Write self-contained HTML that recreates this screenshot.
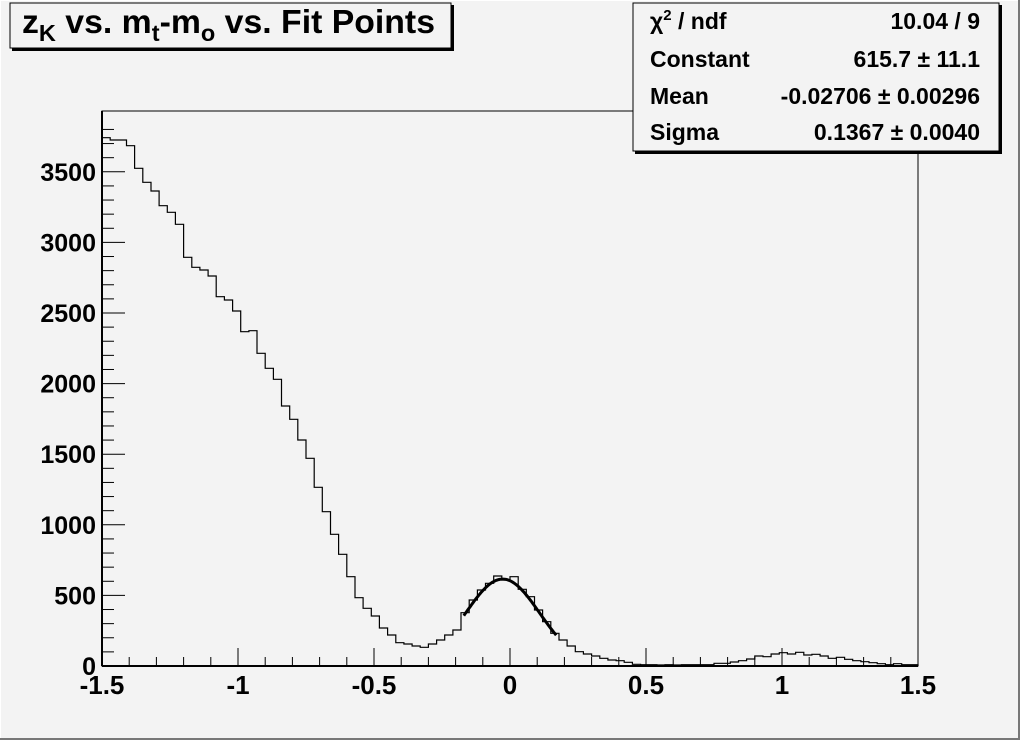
<!DOCTYPE html>
<html><head><meta charset="utf-8"><style>
html,body{margin:0;padding:0;background:#f3f3f3;}
svg{display:block;font-family:"Liberation Sans",Arial,sans-serif;font-weight:bold;}
</style></head><body>
<svg id="s" width="1020" height="740" viewBox="0 0 1020 740" xmlns="http://www.w3.org/2000/svg">
<rect x="0" y="0" width="1020" height="740" fill="#f3f3f3"/>
<rect x="0.5" y="0.5" width="1018" height="738" fill="none" stroke="#ffffff" stroke-width="1"/>
<line x1="1019" y1="0" x2="1019" y2="740" stroke="#777" stroke-width="2"/>
<line x1="0" y1="739" x2="1020" y2="739" stroke="#777" stroke-width="2"/>
<rect x="102" y="111" width="816" height="555" fill="#f3f3f3" stroke="#000" stroke-width="1"/>
<g id="ticks" stroke="#000" stroke-width="1"></g>
<path id="h" fill="none" stroke="#000" stroke-width="1.2"/>
<path id="f" fill="none" stroke="#000" stroke-width="3"/>
<line x1="102" y1="666" x2="918" y2="666" stroke="#000" stroke-width="2"/>
<line x1="102" y1="111" x2="102" y2="666" stroke="#000" stroke-width="2"/>
<g font-size="25" text-anchor="end" id="yl"></g>
<g font-size="26" text-anchor="middle" id="xl"></g>
<!-- title -->
<rect x="12" y="5" width="442" height="46" fill="#000"/>
<rect x="10" y="3" width="441" height="45" fill="#f3f3f3" stroke="#000" stroke-width="1"/>
<text x="22" y="33" font-size="33" textLength="413" lengthAdjust="spacingAndGlyphs">z<tspan font-size="23" dy="8">K</tspan><tspan dy="-8"> vs. m</tspan><tspan font-size="23" dy="8">t</tspan><tspan dy="-8">-m</tspan><tspan font-size="23" dy="8">o</tspan><tspan dy="-8"> vs. Fit Points</tspan></text>
<!-- stats -->
<rect x="635" y="5" width="367" height="149" fill="#000"/>
<rect x="633" y="3" width="366" height="148" fill="#f3f3f3" stroke="#000" stroke-width="1"/>
<g font-size="23">
<text x="650" y="29">χ<tspan font-size="15" dy="-9">2</tspan><tspan dy="9"> / ndf</tspan></text>
<text x="650" y="67">Constant</text>
<text x="650" y="104">Mean</text>
<text x="650" y="140">Sigma</text>
<g text-anchor="end">
<text x="980" y="29">10.04 / 9</text>
<text x="980" y="67">615.7 ± 11.1</text>
<text x="980" y="104">-0.02706 ± 0.00296</text>
<text x="980" y="140">0.1367 ± 0.0040</text>
</g></g>
</svg>
<script>
var Y=[137.7,140,140,145.7,168.3,182.3,191,205.7,212.3,224.3,257.3,267.3,270,276,296.7,300,311,331.7,330.7,353.3,368.3,379.3,406,419.3,440,458.3,487.3,511.7,534.3,554.3,
576.7,597.7,608.3,616,628,635,642.7,644,646,647.3,644,640,635,630,612.7,600,590,583.3,576,580,576.7,589.3,596.7,610,621.7,633.3,640,646,651.7,654,656,658.3,660,660.7,
662.3,664.3,664.7,664.7,665,664.7,665,664.7,664.7,664.7,664.7,663.3,663.3,662,660.7,659,656,656.7,654,652.7,654,652.3,655,654.3,656,658.3,657.3,659.3,660.7,661.7,662.7,663.7,664.7,663.7,664.7,664.7];
var w=8.16,d="M102 666";
for(var i=0;i<100;i++){var x0=102+w*i,x1=x0+w;d+=" L"+x0.toFixed(1)+" "+Y[i]+" L"+x1.toFixed(1)+" "+Y[i];}
d+=" L918 666";
document.getElementById('h').setAttribute('d',d);
function X(v){return 102+(v+1.5)*272;}function YY(v){return 666-v*0.1412;}
var f="";for(var v=-0.17;v<=0.1701;v+=0.005){var g=615.7*Math.exp(-0.5*Math.pow((v+0.02706)/0.1367,2));f+=(f?" L":"M")+X(v).toFixed(1)+" "+YY(g).toFixed(1);}
document.getElementById('f').setAttribute('d',f);
var t="";
for(var k=0;k<=38;k++){var y=666-k*14.12,L=(k%5==0)?23:12;t+='<line x1="102" y1="'+y+'" x2="'+(102+L)+'" y2="'+y+'"/>';}
for(var k=0;k<=30;k++){var x=102+k*27.2,L=(k%5==0)?18:9;t+='<line x1="'+x+'" y1="666" x2="'+x+'" y2="'+(666-L)+'"/>';}
document.getElementById('ticks').innerHTML=t;
var yl="";for(var k=0;k<=7;k++){yl+='<text x="96" y="'+(666-k*70.6+9)+'">'+(k*500)+'</text>';}
document.getElementById('yl').innerHTML=yl;
var xs=["-1.5","-1","-0.5","0","0.5","1","1.5"],xl="";
for(var k=0;k<7;k++){xl+='<text x="'+(102+k*136)+'" y="694">'+xs[k]+'</text>';}
document.getElementById('xl').innerHTML=xl;
</script>
</body></html>
